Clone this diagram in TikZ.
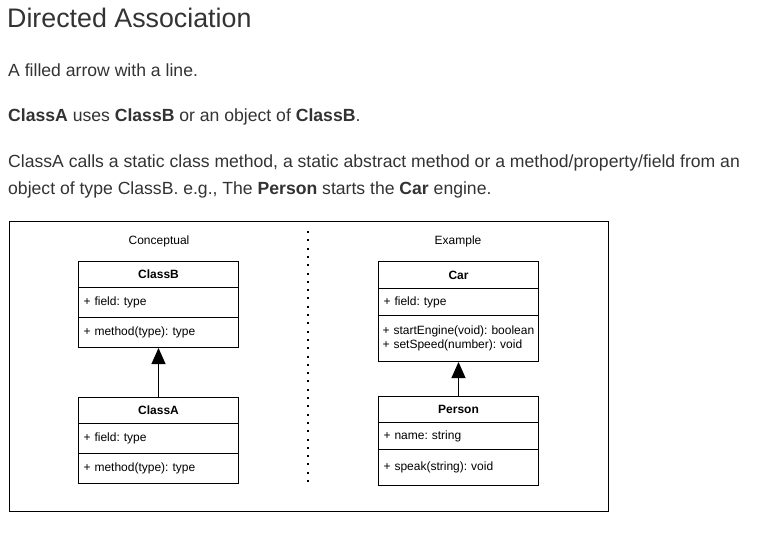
\documentclass[tikz,border=0pt]{standalone}
\usepackage{fontspec}
\setmainfont{Liberation Sans}
\usetikzlibrary{arrows.meta}
\definecolor{txt}{HTML}{333333}
\frenchspacing
\begin{document}
\begin{tikzpicture}[x=1pt,y=-1pt,
  para/.style={anchor=base west,inner sep=0pt,text=txt,font=\fontsize{17.6}{21}\selectfont},
  small/.style={inner sep=0pt,font=\fontsize{12}{14}\selectfont},
  cell/.style={draw,line width=1pt,anchor=north west,minimum width=160pt,text width=150pt,
    inner xsep=5pt,inner ysep=0pt,align=left,font=\fontsize{12}{14.5}\selectfont},
  head/.style={cell,align=center,font=\fontsize{12}{14.5}\selectfont\bfseries},
  assoc/.style={line width=1pt,-{Triangle[length=16pt,width=14pt]}}]
\useasboundingbox (0,0) rectangle (775,555);
\fill[white] (0,0) rectangle (775,555);
% text above
\node[para,font=\fontsize{26.8}{30}\selectfont] (title) at (7,27) {Directed Association};
\node[para] (p1) at (8,76) {A filled arrow with a line.};
\node[para] (p2) at (8,121) {\textbf{ClassA} uses \textbf{ClassB} or an object of \textbf{ClassB}.};
\node[para] (p3) at (8,167) {ClassA calls a static class method, a static abstract method or a method/property/field from an};
\node[para] (p4) at (8,194) {object of type ClassB. e.g., The \textbf{Person} starts the \textbf{Car} engine.};
% frame
\node[draw,line width=1pt,anchor=north west,minimum width=599pt,minimum height=290pt,inner sep=0pt] (frame) at (9,221) {};
\node[small] (lc) at (159,241) {Conceptual};
\node[small] (le) at (458,241) {Example};
% dotted separator
\coordinate (d1) at (308,231);
\coordinate (d2) at (308,483);
\draw[line width=2pt,dash pattern=on 2pt off 6.3pt] (d1) -- (d2);
% ClassB
\node[head,minimum height=26pt] (bh) at (78,261) {ClassB};
\node[cell,minimum height=30pt] (bf) at (78,287) {+ field: type};
\node[cell,minimum height=30pt] (bm) at (78,317) {+ method(type): type};
% ClassA
\node[head,minimum height=26pt] (ah) at (78,397) {ClassA};
\node[cell,minimum height=30pt] (af) at (78,423) {+ field: type};
\node[cell,minimum height=30pt] (am) at (78,453) {+ method(type): type};
% Car
\node[head,minimum height=27pt] (ch) at (378,261) {Car};
\node[cell,minimum height=27pt] (cf) at (378,288) {+ field: type};
\node[cell,minimum height=46pt,inner xsep=4pt,text width=152pt] (cm) at (378,315) {+ startEngine(void): boolean\\+ setSpeed(number): void};
% Person
\node[head,minimum height=26pt] (ph) at (378,396) {Person};
\node[cell,minimum height=27pt] (pf) at (378,422) {+ name: string};
\node[cell,minimum height=36pt] (pm) at (378,449) {+ speak(string): void};
% arrows
\draw[assoc] (ah.north) -- (bm.south);
\draw[assoc] (ph.north) -- (cm.south);
\end{tikzpicture}
\end{document}
